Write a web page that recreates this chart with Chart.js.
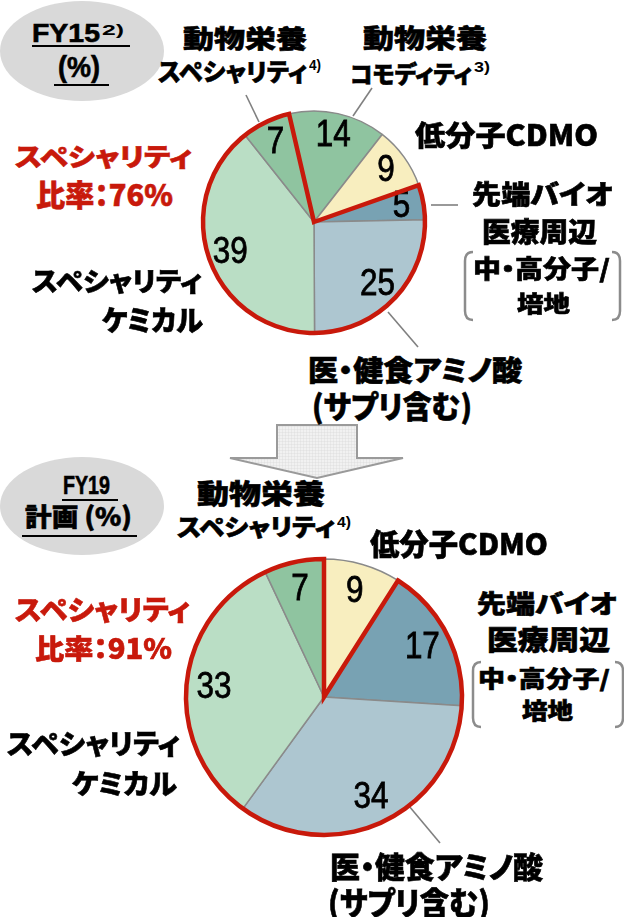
<!DOCTYPE html>
<html><head><meta charset="utf-8">
<script src="https://cdn.jsdelivr.net/npm/chart.js@4.4.1/dist/chart.umd.min.js"></script>
<style>
html,body{margin:0;padding:0;background:#fff;}
body{width:624px;height:917px;position:relative;overflow:hidden;}
canvas{position:absolute;}
svg{position:absolute;left:0;top:0;}
.lab{position:absolute;white-space:nowrap;line-height:1;font-family:"Noto Sans CJK JP","Noto Sans",sans-serif;font-weight:900;color:#000;transform-origin:0 0;font-feature-settings:"palt" 1;-webkit-text-stroke:0.6px currentColor;}
.ul{position:absolute;height:2px;background:#000;}
</style></head><body>
<svg width="624" height="917" id="ov">
  <defs>
    <pattern id="grid" width="3" height="3" patternUnits="userSpaceOnUse">
      <rect width="3" height="3" fill="#f1f1f1"/>
      <path d="M0 0H3M0 0V3" stroke="#d6d6d6" stroke-width="0.7"/>
    </pattern>
  </defs>
  <ellipse cx="82" cy="51" rx="82" ry="50" fill="#d9d9d9"/>
  <ellipse cx="82" cy="506" rx="82" ry="49" fill="#d9d9d9"/>
  <g stroke="#808080" stroke-width="1.6" fill="none">
    <line x1="246" y1="95" x2="259" y2="122"/>
    <line x1="372" y1="88" x2="353" y2="116"/>
    <line x1="431" y1="205" x2="458" y2="205"/>
    <line x1="388" y1="312" x2="418" y2="347"/>
    <line x1="409" y1="806" x2="440" y2="843"/>
  </g>
  <g stroke="#8c8c8c" stroke-width="2.5" fill="none">
    <path d="M473 252 Q465 252 465 261 L465 311 Q465 320 473 320"/>
    <path d="M612 252 Q620 252 620 261 L620 311 Q620 320 612 320"/>
    <path d="M481 662 Q473 662 473 671 L473 718 Q473 727 481 727"/>
    <path d="M615 662 Q623 662 623 671 L623 718 Q623 727 615 727"/>
  </g>
  <polygon points="277,425 357,425 357,458 403,458 317,478 230,458 277,458" fill="url(#grid)" stroke="#9a9a9a" stroke-width="2" stroke-linejoin="miter"/>
</svg>
<canvas id="c15" width="240" height="240" style="left:194px;top:102px"></canvas>
<canvas id="c19" width="300" height="300" style="left:174px;top:547px"></canvas>
<script>
// ---- data ----
const fy15Categories = ['動物栄養コモディティ','低分子CDMO','先端バイオ医療周辺','医・健食アミノ酸','スペシャリティケミカル','動物栄養スペシャリティ'];
const fy15Values = [14, 9, 5, 25, 39, 7];
const fy15Specialty = [false, false, true, true, true, true];
const fy19Categories = ['低分子CDMO','先端バイオ医療周辺','医・健食アミノ酸','スペシャリティケミカル','動物栄養スペシャリティ'];
const fy19Values = [9, 17, 34, 33, 7];
const fy19Specialty = [false, true, true, true, true];

const catColors = {
  '動物栄養コモディティ':'#8fc4a0',
  '低分子CDMO':'#f8eebf',
  '先端バイオ医療周辺':'#78a2b3',
  '医・健食アミノ酸':'#adc6d0',
  'スペシャリティケミカル':'#badec5',
  '動物栄養スペシャリティ':'#8fc4a0'
};
const RED = '#c8190b';

const pieExtras = {
  id:'pieExtras',
  afterDatasetsDraw(chart, args, opts){
    const ctx = chart.ctx;
    const arcs = chart.getDatasetMeta(0).data;
    const vals = chart.data.datasets[0].data;
    ctx.save();
    ctx.fillStyle = '#000';
    ctx.strokeStyle = '#000';
    ctx.lineWidth = 0.8;
    ctx.font = '37px "Liberation Sans", Arial, sans-serif';
    ctx.textAlign = 'center';
    ctx.textBaseline = 'middle';
    arcs.forEach((a,i)=>{
      const p = a.getProps(['x','y','startAngle','endAngle','outerRadius'], true);
      const mid = (p.startAngle + p.endAngle)/2;
      const r = p.outerRadius*0.8;
      ctx.save();
      ctx.translate(p.x + Math.cos(mid)*r, p.y + Math.sin(mid)*r);
      ctx.scale(0.85,1);
      ctx.fillText(String(vals[i]),0,1);
      ctx.strokeText(String(vals[i]),0,1);
      ctx.restore();
    });
    const flags = opts.flags;
    const from = flags.indexOf(true), to = flags.lastIndexOf(true);
    const a0 = arcs[from].getProps(['x','y','startAngle','outerRadius'], true);
    const a1 = arcs[to].getProps(['endAngle'], true);
    ctx.beginPath();
    ctx.moveTo(a0.x, a0.y);
    ctx.arc(a0.x, a0.y, a0.outerRadius, a0.startAngle, a1.endAngle);
    ctx.closePath();
    ctx.strokeStyle = RED;
    ctx.lineWidth = 4.5;
    ctx.lineJoin = 'miter';
    ctx.stroke();
    ctx.restore();
  }
};

function makePie(id, cats, vals, flags, rotation, radius){
  return new Chart(document.getElementById(id), {
    type:'pie',
    data:{labels:cats, datasets:[{data:vals, backgroundColor:cats.map(c=>catColors[c]), borderColor:'#8a8a8a', borderWidth:1.5}]},
    options:{responsive:false, animation:false, rotation:rotation, radius:radius,
      layout:{padding:0},
      plugins:{legend:{display:false}, tooltip:{enabled:false}, pieExtras:{flags:flags}}},
    plugins:[pieExtras]
  });
}
makePie('c15', fy15Categories, fy15Values, fy15Specialty, -13, 111);
makePie('c19', fy19Categories, fy19Values, fy19Specialty, 0, 138);

// ---- text labels ----
function lab(text, x0, x1, inkTop, inkH, opt){
  opt = opt || {};
  const el = document.createElement('div');
  el.className = 'lab';
  const size = opt.size || inkH/0.9;
  el.style.fontSize = size + 'px';
  if (opt.font) el.style.fontFamily = opt.font;
  if (opt.color) el.style.color = opt.color;
  if (opt.thin) el.style.webkitTextStroke = '0';
  el.style.left = x0 + 'px';
  el.style.top = (inkTop - (opt.off != null ? opt.off : 0.1)*size) + 'px';
  el.textContent = text;
  document.body.appendChild(el);
  const w = el.getBoundingClientRect().width;
  el.style.transform = 'scaleX(' + ((x1-x0)/w).toFixed(3) + ')';
  return el;
}
function ul(x0,x1,y){
  const d=document.createElement('div'); d.className='ul';
  d.style.left=x0+'px'; d.style.width=(x1-x0)+'px'; d.style.top=(y-1)+'px';
  document.body.appendChild(d);
}
const LAT = '"Liberation Sans", Arial, sans-serif';

// FY15 badge
lab('FY15', 32, 100, 23, 19, {font:LAT, size:26, off:0.13});
lab('2)', 102, 124, 24, 13, {font:LAT, size:15, off:0.13, thin:true});
ul(32,130,46);
lab('(%)', 58, 100, 57, 28, {font:LAT, size:29, off:0.13});
ul(54,109,85);

// FY15 labels
lab('動物栄養', 183, 307, 27, 23);
lab('スペシャリティ', 158, 307, 61, 22);
lab('4)', 309, 321, 59, 13, {font:LAT, size:15, off:0.13, thin:true});
lab('動物栄養', 363, 487, 27, 24);
lab('コモディティ', 350, 472, 64, 21);
lab('3)', 474, 490, 61, 13, {font:LAT, size:15, off:0.13, thin:true});
lab('低分子CDMO', 415, 598, 122, 26);
lab('先端バイオ', 472, 613, 183, 24);
lab('医療周辺', 482, 597, 220, 25);
lab('中・高分子/', 473, 610, 258, 22);
lab('培地', 517, 570, 293, 20);
lab('スペシャリティ', 15, 192, 145, 23, {color:RED});
lab('比率：76%', 36, 173, 181, 27, {color:RED});
lab('スペシャリティ', 32, 202, 270, 24);
lab('ケミカル', 102, 203, 307, 26);
lab('医・健食アミノ酸', 308, 522, 357, 26);
lab('(サプリ含む)', 312, 472, 392, 28);

// FY19 badge
lab('FY19', 63, 110, 475, 19, {font:LAT, size:26, off:0.13});
ul(62,118,500);
lab('計画 (%)', 25, 132, 505, 23);
ul(22,137,536);

// FY19 labels
lab('動物栄養', 197, 325, 482, 25);
lab('スペシャリティ', 177, 335, 517, 21);
lab('4)', 337, 351, 516, 13, {font:LAT, size:15, off:0.13, thin:true});
lab('低分子CDMO', 370, 548, 530, 27);
lab('先端バイオ', 477, 617, 592, 23);
lab('医療周辺', 487, 610, 628, 25);
lab('中・高分子/', 478, 610, 668, 20);
lab('培地', 522, 573, 700, 20);
lab('スペシャリティ', 15, 190, 598, 25, {color:RED});
lab('比率：91%', 35, 172, 637, 25, {color:RED});
lab('スペシャリティ', 7, 180, 732, 25);
lab('ケミカル', 72, 177, 772, 25);
lab('医・健食アミノ酸', 330, 543, 853, 27);
lab('(サプリ含む)', 328, 490, 888, 29);
</script>
</body></html>
